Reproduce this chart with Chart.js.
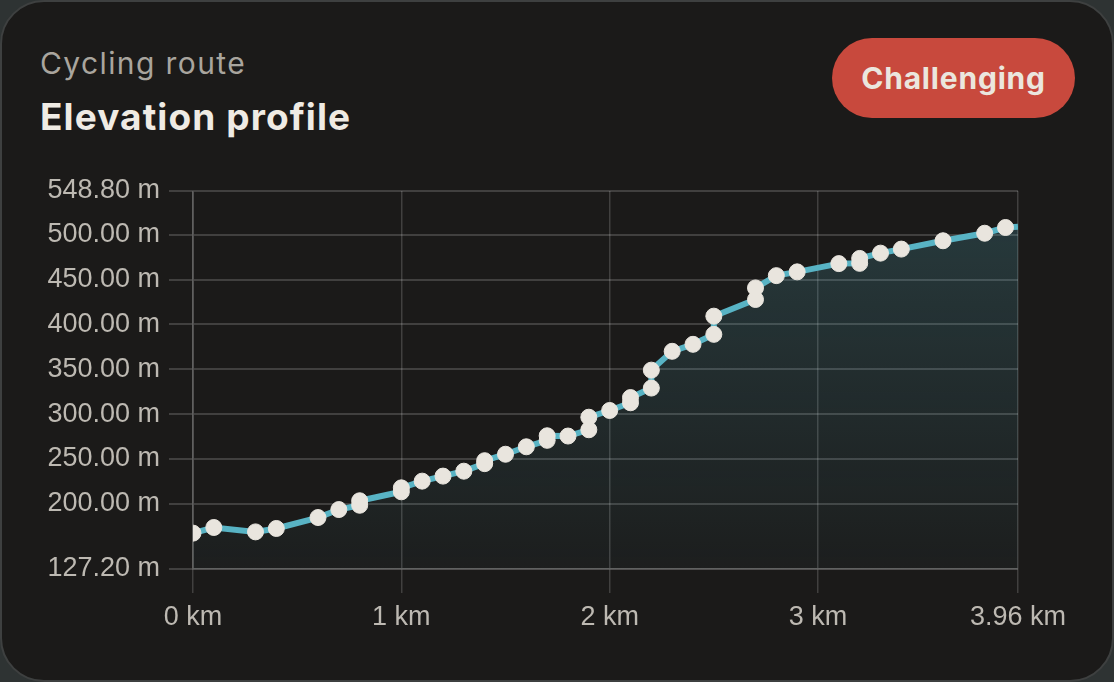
<!DOCTYPE html>
<html>
<head>
<meta charset="utf-8">
<script src="https://cdn.jsdelivr.net/npm/chart.js@4.4.1/dist/chart.umd.min.js"></script>
<style>
  html, body { margin: 0; padding: 0; background: #2e3333; }
  .card {
    position: relative;
    width: 1110px;
    height: 678px;
    background: #1b1a19;
    border: 2px solid #3e4040;
    border-radius: 44px;
    overflow: hidden;
  }
  .subtitle {
    position: absolute; left: 38px; top: 46px;
    font: 400 30px/1 Inter, sans-serif; color: #a9a59e; letter-spacing: 1.4px;
  }
  .title {
    position: absolute; left: 38px; top: 96px;
    font: 700 37px/1 Inter, sans-serif; color: #efebe4; letter-spacing: 1.1px;
  }
  .badge {
    position: absolute; left: 830px; top: 36px;
    width: 243px; height: 80px; border-radius: 40px;
    background: #c8493d; color: #ebe6de;
    font: 700 30px/80px Inter, sans-serif; text-align: center; letter-spacing: 0.8px;
  }
  .wrap { position: absolute; left: -2px; top: 148px; width: 1114px; height: 500px; }
</style>
</head>
<body>
<div class="card">
  <div class="subtitle">Cycling route</div>
  <div class="title">Elevation profile</div>
  <div class="badge">Challenging</div>
  <div class="wrap"><canvas id="elevationChart"></canvas></div>
</div>
<script>
"use strict";
// distance along the route (km) and elevation (m)
const distKm = [
  0, 0.1, 0.3, 0.4, 0.6, 0.7, 0.8, 0.8, 1.0, 1.0, 1.1, 1.2, 1.3, 1.4, 1.4,
  1.5, 1.6, 1.7, 1.7, 1.8, 1.9, 1.9, 2.0, 2.1, 2.1, 2.2, 2.2, 2.3, 2.4, 2.5,
  2.5, 2.7, 2.7, 2.8, 2.9, 3.1, 3.2, 3.2, 3.3, 3.4, 3.6, 3.8, 3.9, 3.96,
];
const elevationM = [
  167.2, 173.5, 168.6, 172.4, 184.6, 193.5, 198.3, 203.3, 213.3, 217.7, 225.2,
  230.8, 236.3, 244.7, 248.0, 255.2, 263.5, 270.7, 275.8, 275.5, 282.5, 296.5,
  304.0, 312.6, 318.4, 329.0, 349.0, 370.0, 377.8, 388.9, 409.2, 427.8, 440.7,
  454.4, 458.6, 467.8, 468.1, 473.6, 479.5, 484.0, 493.3, 501.7, 508.1, 508.8,
];
const xTicks = [0, 1, 2, 3, 3.96];
const yTicks = [127.2, 200, 250, 300, 350, 400, 450, 500, 548.8];

const gridColor = "rgba(255,255,255,0.17)";
const tickFont = { family: "'Liberation Sans', Arial, sans-serif", size: 27 };

const areaFill = (ctx) => {
  const area = ctx.chart.chartArea;
  if (!area) return "rgba(86,178,196,0.1)";
  const g = ctx.chart.ctx.createLinearGradient(0, area.top, 0, area.bottom);
  g.addColorStop(0, "rgba(86,178,196,0.22)");
  g.addColorStop(1, "rgba(86,178,196,0.03)");
  return g;
};

const config = {
  type: "line",
  data: {
    datasets: [
      {
        label: "Elevation",
        data: distKm.map((d, i) => ({ x: d, y: elevationM[i] })),
        borderColor: "#58b3c4",
        borderWidth: 6,
        tension: 0,
        fill: "start",
        backgroundColor: areaFill,
        pointRadius: (ctx) => (ctx.dataIndex === distKm.length - 1 ? 0 : 8),
        pointBackgroundColor: "#e9e5de",
        pointBorderColor: "#e9e5de",
        pointBorderWidth: 1,
        clip: 0,
      },
    ],
  },
  options: {
    responsive: true,
    maintainAspectRatio: false,
    animation: false,
    layout: { padding: { left: 43, right: 96, top: 41, bottom: 21 } },
    plugins: { legend: { display: false }, tooltip: { enabled: false } },
    scales: {
      x: {
        type: "linear",
        min: 0,
        max: 3.96,
        afterBuildTicks: (scale) => {
          scale.ticks = xTicks.map((v) => ({ value: v }));
        },
        afterFit: (scale) => {
          scale.height = 60;
        },
        grid: { color: gridColor, lineWidth: 1.5, tickLength: 24 },
        border: { color: gridColor, width: 1.5 },
        ticks: {
          color: "#bdb9b2",
          font: tickFont,
          padding: 8,
          maxRotation: 0,
          callback: (v) => (Number.isInteger(v) ? v : v.toFixed(2)) + " km",
        },
      },
      y: {
        type: "linear",
        min: 127.2,
        max: 548.8,
        afterBuildTicks: (scale) => {
          scale.ticks = yTicks.map((v) => ({ value: v }));
        },
        afterFit: (scale) => {
          scale.width = 150;
        },
        grid: { color: gridColor, lineWidth: 2, tickLength: 24 },
        border: { color: gridColor, width: 2 },
        ticks: {
          color: "#bdb9b2",
          font: tickFont,
          padding: 9,
          callback: (v) => v.toFixed(2) + " m",
        },
      },
    },
  },
};

const elevationChart = new Chart(document.getElementById("elevationChart"), config);
</script>
</body>
</html>
